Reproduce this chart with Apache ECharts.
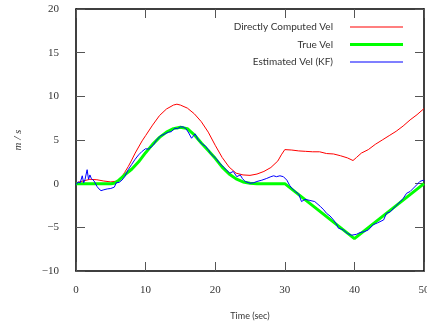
<!DOCTYPE html>
<html>
<head>
<meta charset="utf-8">
<script src="https://cdn.jsdelivr.net/npm/echarts@6/dist/echarts.min.js"></script>
<style>
html,body{margin:0;padding:0;background:#fff;}
#chart{width:427px;height:324px;}
</style>
</head>
<body>
<div id="chart"></div>
<script>
// ---- Data ----
const seriesNames = ['Directly Computed Vel', 'True Vel', 'Estimated Vel (KF)'];
const xTicks = [0, 10, 20, 30, 40, 50];
const yTicks = [-10, -5, 0, 5, 10, 15, 20];

const redX = [0,1,2,3,4,5,6,6.6,7,7.5,8,8.5,9,9.5,10,11,12,13,14,14.5,15,16,17,18,19,20,21,22,23,24,25,26,27,28,29,29.5,30,31,32,33,34,35,36,37,38,39,39.8,40.3,41,42,43,44,45,46,47,48,49,50];
const redY = [0.1,0.3,0.5,0.45,0.3,0.2,0.3,0.8,1.3,1.95,2.7,3.5,4.2,4.9,5.5,6.7,7.8,8.55,9.0,9.1,9.0,8.65,8.0,7.1,5.9,4.4,3.0,1.9,1.2,1.0,0.95,1.1,1.4,1.85,2.6,3.3,3.9,3.85,3.75,3.7,3.65,3.65,3.45,3.4,3.2,2.95,2.65,3.0,3.5,3.9,4.5,5.0,5.5,6.0,6.6,7.3,7.9,8.6];

const trueX = [0,1,2,3,4,5,5.5,6,7,8,9,10,11,12,13,14,15,16,17,18,19,20,21,22,23,24,25,26,30,40,50];
const trueY = [0,0,0,0,0,0,0.05,0.3,1.0,1.65,2.5,3.55,4.5,5.3,5.9,6.3,6.45,6.3,5.6,4.65,3.8,2.9,1.9,1.1,0.55,0.2,0.05,0,0,-6.3,0];

const kfX = [0,0.3,0.6,0.9,1.1,1.3,1.6,1.8,2.0,2.2,2.4,2.6,2.8,3.0,3.3,3.6,4.0,4.5,5.0,5.5,5.8,6.2,6.6,7.0,7.5,8.0,8.5,9.0,9.5,10.0,10.4,10.8,11.1,11.5,11.8,12.2,12.5,12.9,13.3,13.7,14.2,14.6,15.0,15.4,15.8,16.2,16.6,17.1,17.5,17.8,18.2,18.6,19.0,19.3,19.7,20.2,20.7,21.2,21.65,22.1,22.6,23.1,23.6,23.9,24.3,25.0,25.5,26.0,26.7,27.4,28.0,28.4,28.8,29.3,29.8,30.3,30.7,31.0,31.5,32.0,32.4,32.9,33.5,34.3,35.1,35.6,36.0,36.5,37.0,37.4,37.7,38.1,38.4,39.0,39.6,39.8,40.3,40.8,41.4,42.0,42.7,43.3,44.2,44.6,45.2,45.9,46.6,47.0,47.5,48.0,48.5,49.0,49.4,49.9,50];
const kfY = [-0.1,0.2,0.1,0.9,0.1,0.5,1.6,0.5,1.0,0.6,0.8,0.3,0.4,-0.3,-0.6,-0.8,-0.7,-0.6,-0.55,-0.4,0.1,0.15,0.4,0.8,1.6,2.2,2.8,3.3,3.7,4.0,3.95,4.2,4.4,4.9,5.2,5.5,5.6,5.75,5.9,5.95,6.35,6.3,6.5,6.5,6.3,5.8,5.2,5.7,5.1,4.8,4.5,4.3,3.9,3.5,3.2,2.8,2.3,1.9,1.55,1.2,1.4,0.8,1.0,0.6,0.25,0.05,0.1,0.25,0.4,0.6,0.8,0.9,0.8,0.9,0.8,0.4,-0.2,-0.5,-0.9,-1.2,-2.05,-1.8,-1.9,-2.05,-2.6,-3.0,-3.4,-3.7,-4.15,-4.6,-5.1,-5.2,-5.3,-5.7,-5.9,-6.1,-5.8,-5.6,-5.5,-5.3,-4.7,-4.5,-4.15,-3.4,-3.2,-2.6,-2.05,-1.7,-1.1,-0.9,-0.5,-0.1,0.25,0.4,0.3];

const colors = ['#ff0000', '#00ff00', '#0000ff'];
const widths = [1, 3, 1];

function pairs(xs, ys) { return xs.map((x, i) => [x, ys[i]]); }
const dataSets = [pairs(redX, redY), pairs(trueX, trueY), pairs(kfX, kfY)];

const chart = echarts.init(document.getElementById('chart'), null, {renderer: 'canvas'});
const fmtMinus = v => String(v).replace('-', '\u2212');
const serif = '"Liberation Serif", "DejaVu Serif", serif';
const sans = '"Lato", "Liberation Sans", sans-serif';

const tickStyle = {show: true, inside: true, length: 9, lineStyle: {color: '#555', width: 1}};
const lineAx = {show: true, onZero: false, lineStyle: {color: '#000', width: 1.5}};

const legendCenters = [26, 43.5, 61];

chart.setOption({
  animation: false,
  backgroundColor: '#fff',
  grid: {left: 76, right: 3, top: 9, bottom: 53, containLabel: false, outerBoundsMode: 'none'},
  legend: seriesNames.map((n, i) => ({
    orient: 'vertical',
    right: 24,
    top: legendCenters[i] - 7,
    align: 'right',
    selectedMode: false,
    icon: 'rect',
    itemWidth: 53,
    itemHeight: widths[i],
    padding: 0,
    textStyle: {fontFamily: sans, fontSize: 10, color: '#333', padding: [2, 12, 0, 0], lineHeight: 14},
    data: [{name: n, itemStyle: {color: colors[i]}}]
  })),
  xAxis: [{
    type: 'value', min: 0, max: 50, interval: 10, position: 'bottom',
    name: 'Time (sec)', nameLocation: 'middle', nameGap: 41,
    nameTextStyle: {fontFamily: sans, fontSize: 9, color: '#333'},
    axisLine: lineAx, axisTick: tickStyle, splitLine: {show: false},
    axisLabel: {fontFamily: serif, fontSize: 11, color: '#333', margin: 14, formatter: fmtMinus}
  }, {
    type: 'value', min: 0, max: 50, interval: 10, position: 'top',
    axisLine: lineAx, axisTick: tickStyle, splitLine: {show: false}, axisLabel: {show: false}
  }],
  yAxis: [{
    type: 'value', min: -10, max: 20, interval: 5, position: 'left',
    name: 'm / s', nameLocation: 'middle', nameGap: 52, nameRotate: 90,
    nameTextStyle: {fontFamily: serif, fontSize: 11, fontStyle: 'italic', color: '#333'},
    axisLine: lineAx, axisTick: tickStyle, splitLine: {show: false},
    axisLabel: {fontFamily: serif, fontSize: 11, color: '#333', margin: 17, formatter: fmtMinus}
  }, {
    type: 'value', min: -10, max: 20, interval: 5, position: 'right',
    axisLine: lineAx, axisTick: tickStyle, splitLine: {show: false}, axisLabel: {show: false}
  }],
  series: seriesNames.map((n, i) => ({
    name: n, type: 'line', xAxisIndex: 0, yAxisIndex: 0,
    data: dataSets[i], showSymbol: false, symbol: 'none', clip: true,
    lineStyle: {color: colors[i], width: widths[i]}, itemStyle: {color: colors[i]},
    emphasis: {disabled: true}
  }))
});
</script>
</body>
</html>
